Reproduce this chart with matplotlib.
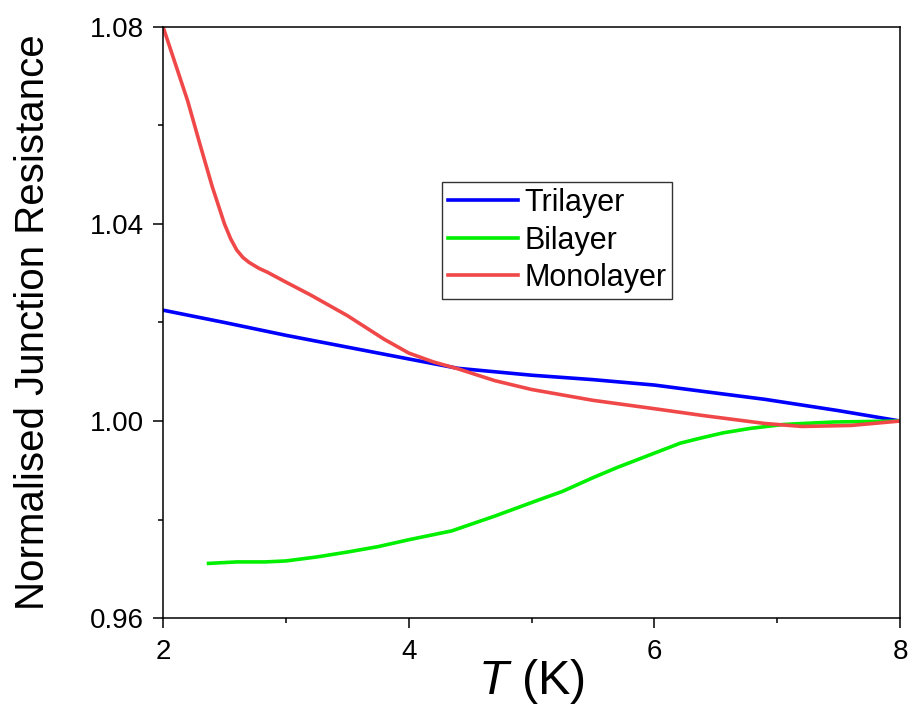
import matplotlib
matplotlib.use('Agg')
import matplotlib.pyplot as plt
from matplotlib.ticker import MultipleLocator

plt.rcParams['font.family'] = ['Liberation Sans', 'DejaVu Sans']
plt.rcParams['mathtext.fontset'] = 'custom'
plt.rcParams['mathtext.it'] = 'Liberation Sans:italic'
plt.rcParams['mathtext.rm'] = 'Liberation Sans'

# Normalised junction resistance vs temperature (K)
tri_T = [2.0, 2.5, 3.0, 3.5, 4.0, 4.4, 5.0, 5.5, 6.0, 6.4, 6.9, 7.5, 8.0]
tri_R = [1.0225, 1.0200, 1.0174, 1.0150, 1.0126, 1.0107, 1.0093, 1.0084,
         1.0073, 1.0060, 1.0044, 1.0021, 1.0000]

bi_T = [2.37, 2.6, 2.83, 3.0, 3.25, 3.5, 3.75, 4.0, 4.35, 4.7, 5.06, 5.25,
        5.5, 5.7, 5.95, 6.21, 6.37, 6.56, 6.78, 7.05, 7.46, 8.0]
bi_R = [0.9711, 0.9714, 0.9714, 0.9716, 0.9724, 0.9734, 0.9745, 0.9759,
        0.9777, 0.9807, 0.9840, 0.9857, 0.9885, 0.9906, 0.9930, 0.9955,
        0.9965, 0.9976, 0.9985, 0.9993, 0.9998, 1.0000]

mono_T = [2.0, 2.1, 2.2, 2.3, 2.4, 2.5, 2.55, 2.6, 2.65, 2.7, 2.78, 2.85,
          3.0, 3.2, 3.5, 3.8, 4.0, 4.2, 4.4, 4.7, 5.0, 5.5, 6.0, 6.4, 6.9,
          7.2, 7.6, 8.0]
mono_R = [1.0800, 1.0725, 1.0650, 1.0562, 1.0476, 1.0400, 1.0370, 1.0347,
          1.0332, 1.0322, 1.0310, 1.0302, 1.0282, 1.0256, 1.0214, 1.0166,
          1.0138, 1.0120, 1.0106, 1.0082, 1.0064, 1.0042, 1.0025, 1.0011,
          0.9995, 0.9989, 0.9991, 1.0000]

fig = plt.figure(figsize=(9.11, 7.08), dpi=100)
ax = fig.add_axes([0.179, 0.127, 0.809, 0.835])

ax.plot(tri_T, tri_R, color='#0000FF', lw=2.6, label='Trilayer')
ax.plot(bi_T, bi_R, color='#00F000', lw=2.6, label='Bilayer')
ax.plot(mono_T, mono_R, color='#F04848', lw=2.6, label='Monolayer')

ax.set_xlim(2, 8)
ax.set_ylim(0.96, 1.08)
ax.xaxis.set_major_locator(MultipleLocator(2))
ax.xaxis.set_minor_locator(MultipleLocator(1))
ax.yaxis.set_minor_locator(MultipleLocator(0.02))
ax.set_yticks([0.96, 1.00, 1.04, 1.08])
ax.set_yticklabels(['0.96', '1.00', '1.04', '1.08'])

ax.tick_params(which='major', direction='out', length=7, width=1.1, labelsize=20)
ax.tick_params(which='minor', direction='out', length=3.5, width=1.1)
ax.tick_params(axis='x', pad=8)
ax.tick_params(axis='y', pad=6.5)
for s in ax.spines.values():
    s.set_linewidth(1.1)

ax.set_ylabel('Normalised Junction Resistance', fontsize=29)
ax.yaxis.set_label_coords(-0.151, 0.5)
ax.set_xlabel('$T$ (K)', fontsize=35)
ax.xaxis.set_label_coords(0.5, -0.066)

leg = ax.legend(loc='upper left', bbox_to_anchor=(0.378, 0.738), borderaxespad=0,
                fontsize=22, frameon=True, fancybox=False, edgecolor='black',
                handlelength=2.3, handletextpad=0.2, labelspacing=0.25,
                borderpad=0.2)
leg.get_frame().set_linewidth(1.0)

fig.savefig('out.png', dpi=100)
